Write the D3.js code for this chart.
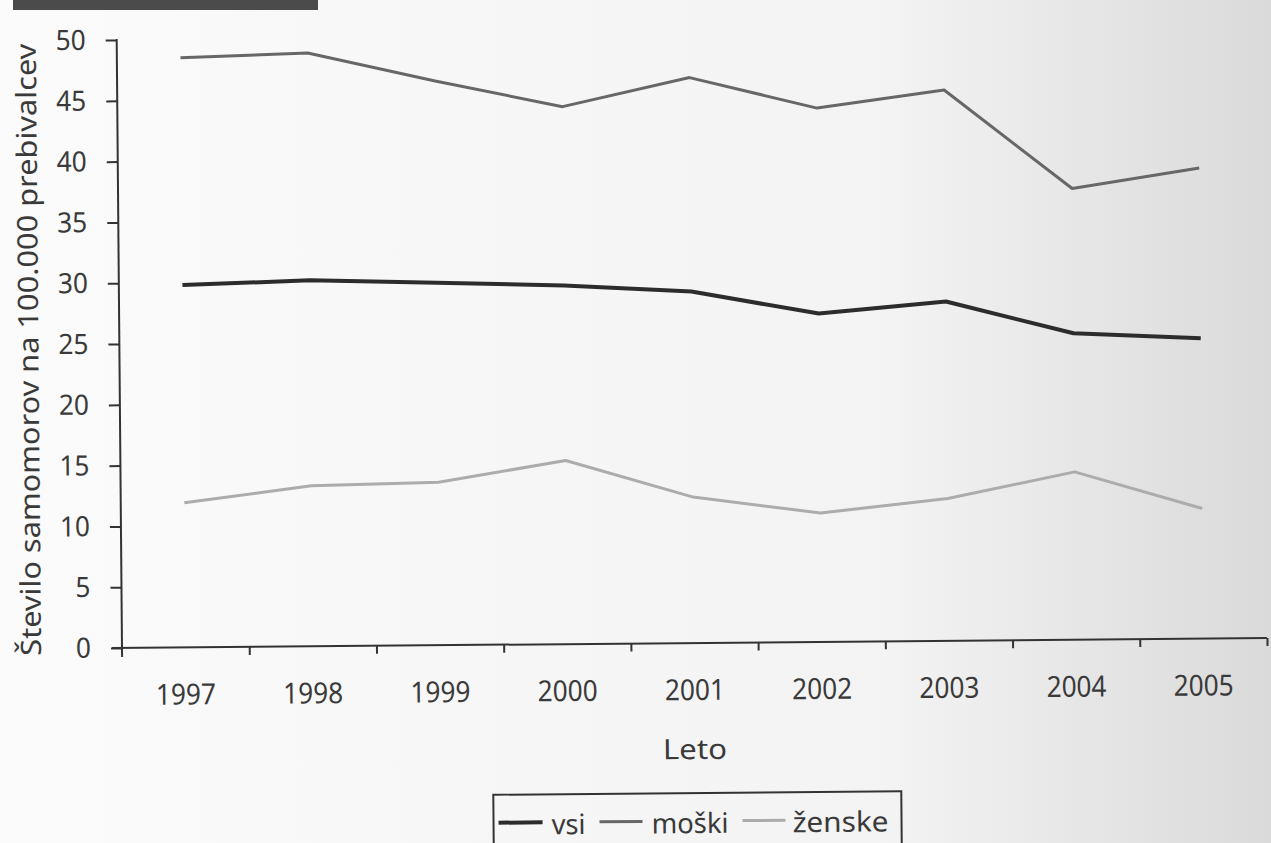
<!DOCTYPE html>
<html><head><meta charset="utf-8">
<script src="https://cdn.jsdelivr.net/npm/d3@7"></script>
<style>
html,body{margin:0;padding:0;background:#fff;overflow:hidden;}
svg{display:block;}
text{font-family:"Noto Sans","Open Sans",sans-serif;fill:#3a3a3a;}
</style></head><body>
<svg id="c" width="1271" height="843"></svg>
<script>
// ---- data ----
const years  = ["1997","1998","1999","2000","2001","2002","2003","2004","2005"];
const vsi    = [29.8, 30.1, 29.8, 29.5, 28.9, 27.0, 27.9, 25.2, 24.7];
const moski  = [48.5, 48.8, 46.4, 44.2, 46.5, 43.9, 45.3, 37.1, 38.7];
const zenske = [11.9, 13.2, 13.4, 15.1, 12.0, 10.6, 11.7, 13.8, 10.7];
const yTicks = [0, 5, 10, 15, 20, 25, 30, 35, 40, 45, 50];
const seriesNames = ["vsi", "moški", "ženske"];
const xTitle = "Leto";
const yTitle = "Število samomorov na 100.000 prebivalcev";

// ---- drawing ----
const svg = d3.select("#c");
const defs = svg.append("defs");
const gr = defs.append("linearGradient").attr("id","bg").attr("x1","0").attr("x2","1").attr("y1","0").attr("y2","0");
gr.append("stop").attr("offset","0").attr("stop-color","#fbfbfb");
gr.append("stop").attr("offset","0.7").attr("stop-color","#f3f3f3");
gr.append("stop").attr("offset","1").attr("stop-color","#dadada");
svg.append("rect").attr("width",1271).attr("height",843).attr("fill","url(#bg)");
svg.append("rect").attr("x",13).attr("y",0).attr("width",305).attr("height",10).attr("fill","#4b4b4b");

const g = svg.append("g").attr("transform","rotate(-0.5,122,648)");

const x = d3.scaleBand().domain(years).range([122,1267]);
const xe = d3.scaleLinear().domain([0, years.length]).range([122,1267]);
const y = d3.scaleLinear().domain([0,50]).range([648,40]);
const axisColor = "#333";

// y axis
const ya = g.append("g").attr("transform","translate(122,0)")
  .call(d3.axisLeft(y).tickValues(yTicks).tickSize(11).tickSizeOuter(0).tickPadding(20));
ya.select(".domain").remove();
ya.selectAll("line").attr("stroke",axisColor).attr("stroke-width",2);
ya.selectAll("text").attr("font-size",28).attr("fill","#3a3a3a").attr("font-family",null)
  .attr("lengthAdjust","spacingAndGlyphs")
  .attr("textLength",d=>String(d).length===1?15:30);
g.append("line").attr("x1",122).attr("x2",122).attr("y1",y(50)-1).attr("y2",657)
  .attr("stroke",axisColor).attr("stroke-width",2);

// x axis ticks at category edges
const xa = g.append("g").attr("transform","translate(0,648)")
  .call(d3.axisBottom(xe).tickValues(d3.range(1, years.length+1)).tickSize(8).tickSizeOuter(0).tickFormat(""));
xa.select(".domain").remove();
xa.selectAll("line").attr("stroke",axisColor).attr("stroke-width",2);
g.append("line").attr("x1",112).attr("x2",1267).attr("y1",648).attr("y2",648)
  .attr("stroke",axisColor).attr("stroke-width",2);

// x labels
const xl = g.append("g").attr("transform","translate(0,648)")
  .call(d3.axisBottom(x).tickSize(0).tickSizeOuter(0));
xl.select(".domain").remove();
xl.selectAll("text").attr("y",57).attr("dy",null).attr("font-size",29).attr("fill","#3a3a3a")
  .attr("font-family",null).attr("lengthAdjust","spacingAndGlyphs").attr("textLength",60);

// titles
g.append("text").attr("x",694).attr("y",764).attr("text-anchor","middle").attr("font-size",28)
  .attr("lengthAdjust","spacingAndGlyphs").attr("textLength",64).text(xTitle);
g.append("text").attr("transform","translate(41,349) rotate(-90)").attr("text-anchor","middle")
  .attr("font-size",28).attr("lengthAdjust","spacingAndGlyphs").attr("textLength",612).text(yTitle);

// lines
const data = [vsi, moski, zenske];
const colors = ["#2c2c2c","#676767","#acacac"];
const widths = [4, 3, 3];
const line = d3.line().x((d,i)=>x(years[i]) + x.bandwidth()/2).y(d=>y(d));
g.selectAll("path.series").data(data).join("path").attr("class","series")
  .attr("d", line).attr("fill","none")
  .attr("stroke",(d,i)=>colors[i]).attr("stroke-width",(d,i)=>widths[i])
  .attr("stroke-linejoin","round");

// legend
const lg = g.append("g");
lg.append("rect").attr("x",492).attr("y",798).attr("width",408).attr("height",70)
  .attr("fill","none").attr("stroke",axisColor).attr("stroke-width",2);
const legX = [[497,541,550,34],[598,641,650,77],[741,784,791,96]];
seriesNames.forEach((n,i)=>{
  lg.append("line").attr("x1",legX[i][0]).attr("x2",legX[i][1]).attr("y1",826).attr("y2",826)
    .attr("stroke",colors[i]).attr("stroke-width",widths[i]);
  lg.append("text").attr("x",legX[i][2]).attr("y",838).attr("font-size",28)
    .attr("lengthAdjust","spacingAndGlyphs").attr("textLength",legX[i][3]).text(n);
});
</script>
</body></html>
